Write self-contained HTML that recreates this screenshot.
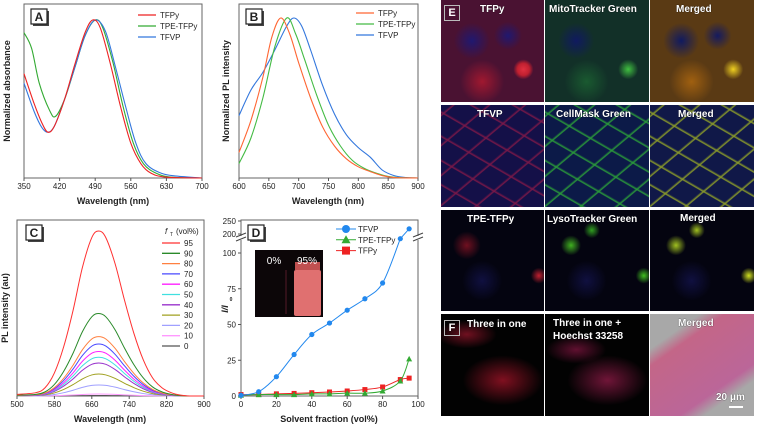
<!DOCTYPE html>
<html><head><meta charset="utf-8"><style>
html,body{margin:0;padding:0;background:#fff;}
#root{position:relative;width:757px;height:427px;overflow:hidden;font-family:"Liberation Sans",Arial,sans-serif;}
svg text{font-family:"Liberation Sans",Arial,sans-serif;}
.tile{position:absolute;overflow:hidden;}
.tl{position:absolute;color:#fff;font-weight:bold;font-size:10px;white-space:nowrap;text-shadow:0 0 1px #000;}
</style></head><body>
<div id="root">
<svg id="charts" width="440" height="427" style="position:absolute;left:0;top:0"></svg>

<div class="tile" style="left:441px;top:0;width:103px;height:102px;background:radial-gradient(circle at 80% 68%,#e03040 0,#c02030 6px,transparent 10px),radial-gradient(circle at 40% 80%,#a01830 0,transparent 22px),radial-gradient(circle at 30% 40%,#201870 0,transparent 18px),radial-gradient(circle at 65% 35%,#201870 0,transparent 14px),#4a1232;"></div>
<div class="tile" style="left:545px;top:0;width:104px;height:102px;background:radial-gradient(circle at 80% 68%,#40c040 0,transparent 10px),radial-gradient(circle at 40% 80%,#1a5a30 0,transparent 22px),radial-gradient(circle at 30% 40%,#101a60 0,transparent 18px),#123028;"></div>
<div class="tile" style="left:650px;top:0;width:104px;height:102px;background:radial-gradient(circle at 80% 68%,#f0d020 0,transparent 10px),radial-gradient(circle at 40% 80%,#a06010 0,transparent 22px),radial-gradient(circle at 30% 40%,#101a60 0,transparent 18px),radial-gradient(circle at 65% 35%,#141a60 0,transparent 14px),#5a3a14;"></div>
<div class="tile" style="left:441px;top:105px;width:103px;height:102px;background:repeating-linear-gradient(30deg,transparent 0,transparent 18px,#7a1848 19px,transparent 21px),repeating-linear-gradient(-40deg,transparent 0,transparent 20px,#7a1848 21px,transparent 23px),#141048;"></div>
<div class="tile" style="left:545px;top:105px;width:104px;height:102px;background:repeating-linear-gradient(30deg,transparent 0,transparent 18px,#2a9a3a 19px,transparent 21px),repeating-linear-gradient(-40deg,transparent 0,transparent 20px,#2a9a3a 21px,transparent 23px),#0c1a48;"></div>
<div class="tile" style="left:650px;top:105px;width:104px;height:102px;background:repeating-linear-gradient(30deg,transparent 0,transparent 18px,#8a9a2a 19px,transparent 21px),repeating-linear-gradient(-40deg,transparent 0,transparent 20px,#8a9a2a 21px,transparent 23px),#101848;"></div>
<div class="tile" style="left:441px;top:210px;width:103px;height:101px;background:radial-gradient(circle at 25% 35%,#701020 0,transparent 14px),radial-gradient(circle at 95% 65%,#c02030 0,transparent 8px),radial-gradient(circle at 40% 70%,#101040 0,transparent 20px),#040410;"></div>
<div class="tile" style="left:545px;top:210px;width:104px;height:101px;background:radial-gradient(circle at 25% 35%,#40b020 0,transparent 10px),radial-gradient(circle at 95% 65%,#40c020 0,transparent 8px),radial-gradient(circle at 45% 20%,#30a020 0,transparent 8px),radial-gradient(circle at 40% 70%,#101040 0,transparent 20px),#040410;"></div>
<div class="tile" style="left:650px;top:210px;width:104px;height:101px;background:radial-gradient(circle at 25% 35%,#a0c020 0,transparent 10px),radial-gradient(circle at 95% 65%,#d0e020 0,transparent 8px),radial-gradient(circle at 45% 20%,#a0c020 0,transparent 8px),radial-gradient(circle at 40% 70%,#101040 0,transparent 20px),#040410;"></div>
<div class="tile" style="left:441px;top:314px;width:103px;height:102px;background:radial-gradient(ellipse 40px 25px at 60% 65%,#801020 0,transparent 40px),radial-gradient(ellipse 30px 14px at 25% 20%,#701020 0,transparent 30px),#020202;"></div>
<div class="tile" style="left:545px;top:314px;width:104px;height:102px;background:radial-gradient(ellipse 40px 25px at 60% 65%,#701538 0,transparent 40px),radial-gradient(ellipse 30px 14px at 30% 35%,#601030 0,transparent 30px),#020202;"></div>
<div class="tile" style="left:650px;top:314px;width:104px;height:102px;background:linear-gradient(145deg,transparent 20%,rgba(200,90,130,0.85) 30%,rgba(190,90,150,0.85) 70%,transparent 80%),#a8a8a8;"></div>

<div class="tl" style="left:480px;top:4px">TFPy</div>
<div class="tl" style="left:549px;top:4px">MitoTracker Green</div>
<div class="tl" style="left:676px;top:4px">Merged</div>
<div class="tl" style="left:477px;top:109px">TFVP</div>
<div class="tl" style="left:556px;top:109px">CellMask Green</div>
<div class="tl" style="left:678px;top:109px">Merged</div>
<div class="tl" style="left:467px;top:214px">TPE-TFPy</div>
<div class="tl" style="left:547px;top:214px">LysoTracker Green</div>
<div class="tl" style="left:680px;top:213px">Merged</div>
<div class="tl" style="left:467px;top:319px">Three in one</div>
<div class="tl" style="left:553px;top:317px;line-height:13px">Three in one +<br>Hoechst 33258</div>
<div class="tl" style="left:678px;top:318px">Merged</div>
<div class="tl" style="left:716px;top:392px">20 μm</div>
<div style="position:absolute;left:729px;top:406px;width:14px;height:2px;background:#fff"></div>
<div style="position:absolute;left:444px;top:5px;width:14px;height:14px;border:1px solid #bbb;color:#fff;font-weight:bold;font-size:11px;text-align:center;line-height:14px">E</div>
<div style="position:absolute;left:444px;top:320px;width:14px;height:14px;border:1px solid #bbb;color:#fff;font-weight:bold;font-size:11px;text-align:center;line-height:14px">F</div>
</div>

<script>
// ---- Panel A data ----
const aRedX=[350,370,385,397,410,430,450,470,485,500,520,540,560,580,600,630,700];
const aRedY=[0.66,0.47,0.35,0.29,0.33,0.5,0.72,0.92,1.0,0.95,0.72,0.45,0.22,0.09,0.03,0.005,0];
const aGreenX=[350,365,380,400,412,430,450,470,490,505,525,545,565,585,610,640,700];
const aGreenY=[0.92,0.82,0.6,0.43,0.39,0.5,0.7,0.9,1.0,0.95,0.73,0.45,0.22,0.09,0.03,0.005,0];
const aBlueX=[350,370,385,397,410,430,450,470,490,510,530,550,570,590,620,650,700];
const aBlueY=[0.6,0.42,0.32,0.29,0.33,0.5,0.7,0.9,1.0,0.93,0.7,0.45,0.22,0.09,0.03,0.012,0];
const aTicks=[350,420,490,560,630,700];
// ---- Panel B data ----
const bOrangeX=[600,620,640,655,670,685,700,720,740,760,780,800,820,840,860,900];
const bOrangeY=[0.16,0.36,0.63,0.88,1.0,0.9,0.72,0.5,0.32,0.2,0.12,0.07,0.04,0.015,0.003,0];
const bGreenX=[600,620,640,660,680,695,710,730,750,770,790,810,830,850,870,900];
const bGreenY=[0.09,0.25,0.5,0.82,1.0,0.9,0.74,0.52,0.33,0.2,0.11,0.06,0.03,0.01,0.002,0];
const bBlueX=[600,620,640,660,680,692,705,720,740,760,780,800,820,840,860,880,900];
const bBlueY=[0.39,0.55,0.66,0.8,0.95,1.0,0.95,0.8,0.58,0.4,0.27,0.19,0.13,0.05,0.015,0.003,0];
const bTicks=[600,650,700,750,800,850,900];
// ---- Panel C data ----
const cProfileX=[500,540,560,580,600,620,640,660,675,690,710,730,750,770,790,810,830,850,870,900];
const cProfileY=[0.01,0.02,0.05,0.14,0.3,0.52,0.78,0.96,1.0,0.96,0.8,0.58,0.38,0.22,0.11,0.05,0.02,0.005,0,0];
const cFractions=[95,90,80,70,60,50,40,30,20,10,0];
const cPeaks=[100,50,36,31.5,27,23.5,20,13.3,6.7,1.2,0.3];
const cColors=["#ff3030","#2a8a2a","#ff8040","#4848ff","#ff20ff","#40e0e0","#9933cc","#a0a020","#a0a0ff","#ff99ff","#555555"];
const cTicks=[500,580,660,740,820,900];
// ---- Panel D data ----
const dFrac=[0,10,20,30,40,50,60,70,80,90,95];
const dTFVP=[0.5,3,13.5,29,43,51,60,68,79,110,220];
const dTPE=[0.5,1,1,1,1.5,1.5,2,2,3.5,10.5,26];
const dTFPy=[1,1,1.5,1.8,2.3,2.8,3.5,4.5,6.3,11.5,12.5];
const dXTicks=[0,20,40,60,80,100];
const dYTicks=[0,25,50,75,100];
const dYTicksHigh=[200,250];

const svg=document.getElementById('charts');
const NS='http://www.w3.org/2000/svg';
function mk(tag,attrs,parent){const e=document.createElementNS(NS,tag);for(const k in attrs)e.setAttribute(k,attrs[k]);(parent||svg).appendChild(e);return e;}
function txt(x,y,s,size,anchor,weight,parent){const t=mk('text',{x:x,y:y,'font-size':size,'text-anchor':anchor||'middle','font-weight':weight||'normal',fill:'#222'},parent);t.textContent=s;return t;}
function smooth(pts){let d='M'+pts[0][0]+','+pts[0][1];for(let i=0;i<pts.length-1;i++){const p0=pts[Math.max(0,i-1)],p1=pts[i],p2=pts[i+1],p3=pts[Math.min(pts.length-1,i+2)];const c1x=p1[0]+(p2[0]-p0[0])/6,c1y=p1[1]+(p2[1]-p0[1])/6,c2x=p2[0]-(p3[0]-p1[0])/6,c2y=p2[1]-(p3[1]-p1[1])/6;d+=' C'+c1x+','+c1y+' '+c2x+','+c2y+' '+p2[0]+','+p2[1];}return d;}
function lin(d0,d1,r0,r1){return v=>r0+(v-d0)*(r1-r0)/(d1-d0);}
function frame(x0,y0,x1,y1,name){const r=mk('rect',{x:x0,y:y0,width:x1-x0,height:y1-y0,fill:'none',stroke:'#666','stroke-width':1});}
function panelLabel(x,y,s,name){const g=mk('g',{});mk('rect',{x:x+2,y:y+2,width:16,height:15,fill:'#444'},g);mk('rect',{x:x,y:y,width:16,height:15,fill:'#fff',stroke:'#222','stroke-width':1.2},g);txt(x+8,y+12,s,12,'middle','bold',g);}
function xAxis(ticks,sx,yb,ty,name){const g=mk('g',{});ticks.forEach(t=>{mk('line',{x1:sx(t),x2:sx(t),y1:yb,y2:yb+3,stroke:'#555'},g);txt(sx(t),ty,String(t),8,'middle','normal',g);});}
function series(xs,ys,sx,sy,color,name,w){const p=mk('path',{d:smooth(xs.map((x,i)=>[sx(x),sy(ys[i])])),fill:'none',stroke:color,'stroke-width':w||1.1});}
function legend(x,y,color,label,name){const g=mk('g',{});mk('line',{x1:x,x2:x+18,y1:y,y2:y,stroke:color,'stroke-width':1.3},g);txt(x+22,y+3,label,8,'start','normal',g);}
function ytitle(x,y,s,name){const t=txt(0,0,s,9,'middle','bold');t.setAttribute('transform','translate('+x+','+y+') rotate(-90)');return t;}
function xtitle(x,y,s,name){const t=txt(x,y,s,9,'middle','bold');}

// Panel A
{const sx=lin(350,700,24,202),sy=lin(0,1,178,20);
frame(24,4,202,178,'panel-a-frame');
series(aGreenX,aGreenY,sx,sy,'#33aa33','a-line-tpe-tfpy');
series(aBlueX,aBlueY,sx,sy,'#3377dd','a-line-tfvp');
series(aRedX,aRedY,sx,sy,'#ee2222','a-line-tfpy');
xAxis(aTicks,sx,178,189,'a-x-axis');
xtitle(113,204,'Wavelength (nm)','a-x-axis-title');
ytitle(10,91,'Normalized absorbance','a-y-axis-title');
legend(138,15,'#ee2222','TFPy','a-legend-tfpy');legend(138,26,'#33aa33','TPE-TFPy','a-legend-tpe-tfpy');legend(138,37,'#3377dd','TFVP','a-legend-tfvp');
panelLabel(31,9,'A','panel-label-a');}
// Panel B
{const sx=lin(600,900,239,418),sy=lin(0,1,178,18);
frame(239,4,418,178,'panel-b-frame');
series(bBlueX,bBlueY,sx,sy,'#3377dd','b-line-tfvp');
series(bGreenX,bGreenY,sx,sy,'#44bb44','b-line-tpe-tfpy');
series(bOrangeX,bOrangeY,sx,sy,'#ff6633','b-line-tfpy');
xAxis(bTicks,sx,178,189,'b-x-axis');
xtitle(328,204,'Wavelength (nm)','b-x-axis-title');
ytitle(229,91,'Normalized PL intensity','b-y-axis-title');
legend(356,13,'#ff6633','TFPy','b-legend-tfpy');legend(356,24,'#44bb44','TPE-TFPy','b-legend-tpe-tfpy');legend(356,35,'#3377dd','TFVP','b-legend-tfvp');
panelLabel(246,9,'B','panel-label-b');}
// Panel C
{const sx=lin(500,900,17,204),sy=lin(0,100,396,231);
frame(17,220,204,396,'panel-c-frame');
for(let k=cFractions.length-1;k>=0;k--){series(cProfileX,cProfileY.map(v=>v*cPeaks[k]),sx,sy,cColors[k],'c-line-'+cFractions[k],1);}
xAxis(cTicks,sx,396,407,'c-x-axis');
xtitle(110,422,'Wavelength (nm)','c-x-axis-title');
ytitle(8,308,'PL intensity (au)','c-y-axis-title');
const lt=txt(165,234,'f',8,'start','normal');lt.setAttribute('font-style','italic');
txt(170,236,'T',5,'start','normal');txt(176,234,'(vol%)',8,'start','normal');
cFractions.forEach((f,i)=>legend(162,243+i*10.3,cColors[i],String(f),'c-legend-'+f));
panelLabel(26,225,'C','panel-label-c');}
// Panel D
{const sx=lin(0,100,241,418);
const sy=v=>v<=150?396-v*(396-253)/100:236.6-(v-190)*0.26;
frame(241,220,418,396,'panel-d-frame');
mk('rect',{x:236,y:236,width:10,height:4,fill:'#fff'});mk('rect',{x:413,y:236,width:10,height:4,fill:'#fff'});
[[236,235],[236,239],[413,235],[413,239]].forEach(p=>mk('line',{x1:p[0],y1:p[1]+2,x2:p[0]+10,y2:p[1]-2,stroke:'#444'}));
dYTicks.forEach(t=>{mk('line',{x1:238,x2:241,y1:sy(t),y2:sy(t),stroke:'#555'});txt(236,sy(t)+3,String(t),8,'end');});
dYTicksHigh.forEach(t=>{mk('line',{x1:238,x2:241,y1:sy(t),y2:sy(t),stroke:'#555'});txt(236,sy(t)+3,String(t),8,'end');});
xAxis(dXTicks,sx,396,407,'d-x-axis');
xtitle(329,422,'Solvent fraction (vol%)','d-x-axis-title');
const yt=ytitle(228,309,'I/I','d-y-axis-title');yt.setAttribute('font-style','italic');
txt(231,301,'0',5,'middle','bold');
const ins=mk('g',{});
mk('rect',{x:255,y:250,width:68,height:67,fill:'#0c0608'},ins);
mk('rect',{x:294,y:270,width:27,height:46,fill:'#e07070',rx:2},ins);
mk('rect',{x:295,y:262,width:25,height:8,fill:'#c05050'},ins);
mk('rect',{x:285,y:270,width:2,height:44,fill:'#301018'},ins);
const t1=txt(274,264,'0%',10,'middle','normal',ins);t1.setAttribute('fill','#fff');
const t2=txt(307,264,'95%',10,'middle','normal',ins);t2.setAttribute('fill','#fff');
function dSeries(ys,color,marker,name){const g=mk('g',{});
 const pts=dFrac.map((x,i)=>[sx(x),sy(ys[i])]);
 mk('path',{d:smooth(pts.slice(0,ys===dTFVP?10:11)),fill:'none',stroke:color,'stroke-width':1},g);
 if(ys===dTFVP)mk('line',{x1:pts[9][0],y1:pts[9][1],x2:pts[10][0],y2:pts[10][1],stroke:color},g);
 pts.forEach(p=>{if(marker==='c')mk('circle',{cx:p[0],cy:p[1],r:2.6,fill:color},g);else if(marker==='t')mk('path',{d:'M'+p[0]+','+(p[1]-3)+' l3,5.5 l-6,0 z',fill:color},g);else mk('rect',{x:p[0]-2.5,y:p[1]-2.5,width:5,height:5,fill:color},g);});}
dSeries(dTFPy,'#ee2222','s','d-series-tfpy');
dSeries(dTPE,'#33aa33','t','d-series-tpe-tfpy');
dSeries(dTFVP,'#2288ee','c','d-series-tfvp');
const lg=[['TFVP','#2288ee','c'],['TPE-TFPy','#33aa33','t'],['TFPy','#ee2222','s']];
lg.forEach((l,i)=>{const y=229+i*10.8;const g=mk('g',{});
 mk('line',{x1:336,x2:356,y1:y,y2:y,stroke:l[1]},g);
 if(l[2]==='c')mk('circle',{cx:346,cy:y,r:4,fill:l[1]},g);else if(l[2]==='t')mk('path',{d:'M346,'+(y-4.5)+' l4.5,8 l-9,0 z',fill:l[1]},g);else mk('rect',{x:342,y:y-4,width:8,height:8,fill:l[1]},g);
 txt(358,y+3,l[0],8,'start','normal',g);});
panelLabel(248,225,'D','panel-label-d');}
</script>
</body></html>
